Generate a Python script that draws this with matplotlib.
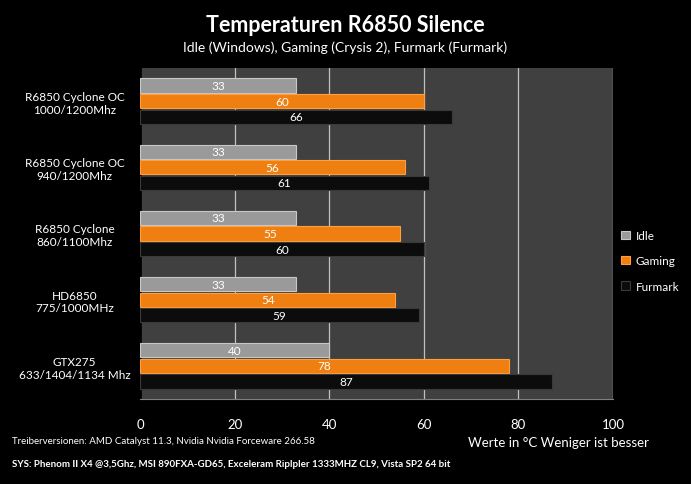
import numpy as np
import matplotlib.pyplot as plt

plt.rcParams['font.family'] = ['Lato', 'DejaVu Sans']

cards = ['R6850 Cyclone OC\n1000/1200Mhz', 'R6850 Cyclone OC\n940/1200Mhz',
         'R6850 Cyclone\n860/1100Mhz', 'HD6850\n775/1000MHz', 'GTX275\n633/1404/1134 Mhz']
idle = [33, 33, 33, 33, 40]
gaming = [60, 56, 55, 54, 78]
furmark = [66, 61, 60, 59, 87]

series = [('Idle', idle, '#9a9a9a', '#c8c8c8'),
          ('Gaming', gaming, '#f07f12', '#ffa040'),
          ('Furmark', furmark, '#0c0c0c', '#3a3a3a')]

fig = plt.figure(figsize=(6.91, 4.85), dpi=100, facecolor='black')
ax = fig.add_axes([140/691, 1-400/485, 473/691, 331/485])
ax.set_facecolor('#404040')

y = np.arange(len(cards))
h = 0.215
step = 0.235
for i, (name, vals, col, edge) in enumerate(series):
    pos = y + (i - 1) * step
    bars = ax.barh(pos, vals, height=h, color=col, edgecolor=edge, linewidth=0.8,
                   label=name, zorder=3)
    for b, v in zip(bars, vals):
        ax.text(v / 2, b.get_y() + b.get_height() / 2, str(v), color='white',
                ha='center', va='center', fontsize=8.5, zorder=4)

ax.set_xlim(0, 100)
ax.set_ylim(len(cards) - 0.5, -0.5)
ax.set_xticks([0, 20, 40, 60, 80, 100])
ax.xaxis.grid(True, color='#c0c0c0', linewidth=0.9, zorder=1)
ax.set_yticks(y)
ax.set_yticklabels(cards, color='white', fontsize=8.5, ha='center')
ax.tick_params(axis='y', length=0, pad=47)
ax.tick_params(axis='x', length=0, colors='white', labelsize=9.5, pad=14)
for s in ['top', 'right']:
    ax.spines[s].set_visible(False)
ax.spines['left'].set_color('black')
ax.spines['left'].set_linewidth(2)
ax.spines['bottom'].set_color('#808080')

leg = ax.legend(loc='center left', bbox_to_anchor=(0.995, 0.417), frameon=False,
                labelcolor='white', fontsize=8.5, handlelength=0.7, handleheight=0.7,
                labelspacing=1.2, handletextpad=0.5)

fig.text(0.5, 1-25/485, 'Temperaturen R6850 Silence', color='white', fontsize=15.5,
         fontweight='bold', ha='center', va='center')
fig.text(0.5, 1-48/485, 'Idle (Windows), Gaming (Crysis 2), Furmark (Furmark)',
         color='white', fontsize=10, ha='center', va='center')
fig.text(12/691, 1-442/485, 'Treiberversionen: AMD Catalyst 11.3, Nvidia Nvidia Forceware 266.58',
         color='white', fontsize=7, ha='left', va='center')
fig.text(468/691, 1-443/485, 'Werte in °C Weniger ist besser', color='white', fontsize=9.5,
         ha='left', va='center')
fig.text(12/691, 1-465/485, 'SYS: Phenom II X4 @3,5Ghz, MSI 890FXA-GD65, Exceleram Riplpler 1333MHZ CL9, Vista SP2 64 bit',
         color='white', fontsize=7, fontweight='bold', ha='left', va='center')

fig.savefig('out.png', dpi=100, facecolor='black')
